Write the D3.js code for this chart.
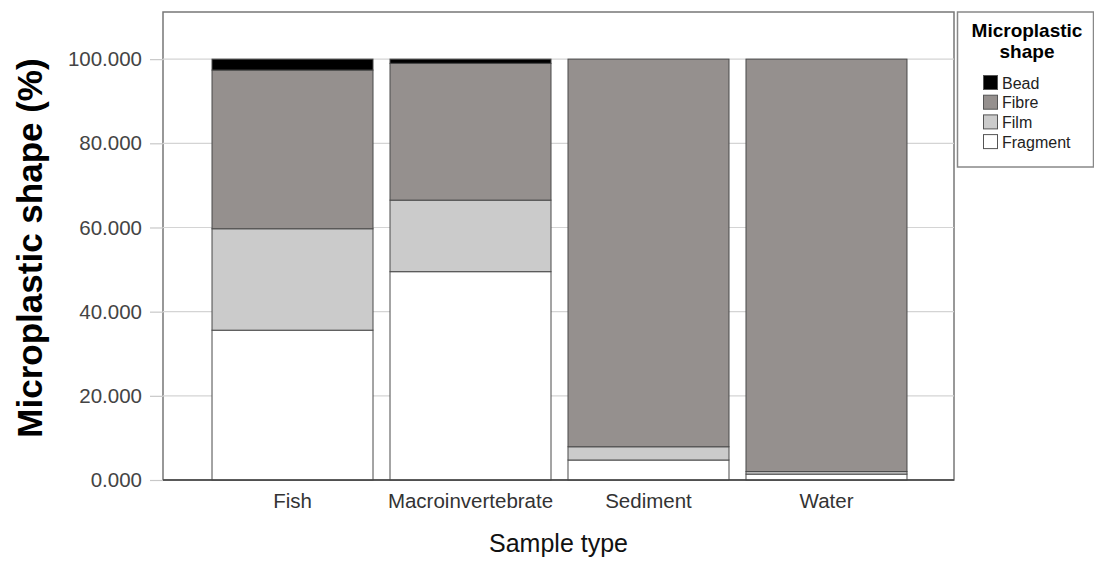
<!DOCTYPE html>
<html>
<head>
<meta charset="utf-8">
<script src="https://cdn.jsdelivr.net/npm/d3@7"></script>
<style>
    body { margin: 0; background: #fff; }
    text { font-family: "Liberation Sans", Arial, sans-serif; }
</style>
</head>
<body>
<div id="wrapper"></div>
<script>
const categories = ["Fish", "Macroinvertebrate", "Sediment", "Water"];
const shapes = ["Bead", "Fibre", "Film", "Fragment"];
const fragmentValues = [35.6, 49.5, 4.75, 1.4];
const filmValues = [24.1, 17.0, 3.15, 0.6];
const fibreValues = [37.7, 32.5, 92.1, 98.0];
const beadValues = [2.6, 1.0, 0.0, 0.0];
const yTicks = [0, 20, 40, 60, 80, 100];

function drawChart() {
    const dataset = categories.map((c, i) => ({
        category: c,
        Fragment: fragmentValues[i],
        Film: filmValues[i],
        Fibre: fibreValues[i],
        Bead: beadValues[i]
    }));

    const colors = {
        Bead: "#000000",
        Fibre: "#95908e",
        Film: "#cbcbcb",
        Fragment: "#ffffff"
    };

    let dimensions = {
        width: 1094,
        height: 561,
        frame: { left: 163, right: 954, top: 12, bottom: 480 }
    };

    const wrapper = d3.select('#wrapper')
        .append('svg')
        .attr('width', dimensions.width)
        .attr('height', dimensions.height);

    const yScale = d3.scaleLinear()
        .domain([0, 111.2])
        .range([dimensions.frame.bottom, dimensions.frame.top]);

    const xScale = d3.scaleBand()
        .domain(categories)
        .range([203.5, 915.5])
        .paddingInner(0.0955)
        .paddingOuter(0.0478);

    // plot frame
    wrapper.append('rect')
        .attr('x', dimensions.frame.left)
        .attr('y', dimensions.frame.top)
        .attr('width', dimensions.frame.right - dimensions.frame.left)
        .attr('height', dimensions.frame.bottom - dimensions.frame.top)
        .attr('fill', 'none')
        .attr('stroke', '#777')
        .attr('stroke-width', 1.5);

    // grid lines
    wrapper.append('g')
        .selectAll('line')
        .data(yTicks.filter(d => d > 0))
        .join('line')
        .attr('x1', dimensions.frame.left)
        .attr('x2', dimensions.frame.right)
        .attr('y1', d => yScale(d))
        .attr('y2', d => yScale(d))
        .attr('stroke', '#d4d4d4')
        .attr('stroke-width', 1.2);

    // stacked bars
    const stacked = d3.stack()
        .keys(["Fragment", "Film", "Fibre", "Bead"])(dataset);

    wrapper.append('g')
        .selectAll('g')
        .data(stacked)
        .join('g')
        .attr('fill', d => colors[d.key])
        .selectAll('rect')
        .data(d => d.filter(s => s[1] - s[0] > 0))
        .join('rect')
        .attr('x', d => xScale(d.data.category))
        .attr('width', xScale.bandwidth())
        .attr('y', d => yScale(d[1]))
        .attr('height', d => yScale(d[0]) - yScale(d[1]))
        .attr('stroke', '#4a4a4a')
        .attr('stroke-width', 1);

    // y axis
    const yAxisGenerator = d3.axisLeft()
        .scale(yScale)
        .tickValues(yTicks)
        .tickFormat(d3.format(".3f"))
        .tickSize(13)
        .tickPadding(8);

    const yAxis = wrapper.append('g')
        .attr('transform', `translate(${dimensions.frame.left}, 0)`)
        .call(yAxisGenerator);
    yAxis.select('.domain').remove();
    yAxis.selectAll('.tick line').attr('stroke', '#c8c8c8').attr('stroke-width', 1.2);
    yAxis.selectAll('.tick text')
        .attr('fill', '#444')
        .style('font-size', '20.5px')
        .style('font-family', '"Liberation Sans", Arial, sans-serif');

    // x axis
    const xAxisGenerator = d3.axisBottom()
        .scale(xScale)
        .tickSize(0)
        .tickPadding(13);

    const xAxis = wrapper.append('g')
        .attr('transform', `translate(0, ${dimensions.frame.bottom})`)
        .call(xAxisGenerator);
    xAxis.select('.domain').remove();
    xAxis.selectAll('.tick text')
        .attr('fill', '#333')
        .style('font-size', '20.5px')
        .style('font-family', '"Liberation Sans", Arial, sans-serif');

    wrapper.append('line')
        .attr('x1', dimensions.frame.left)
        .attr('x2', dimensions.frame.right)
        .attr('y1', dimensions.frame.bottom)
        .attr('y2', dimensions.frame.bottom)
        .attr('stroke', '#444')
        .attr('stroke-width', 1.5);

    // axis titles
    wrapper.append('text')
        .attr('x', (dimensions.frame.left + dimensions.frame.right) / 2)
        .attr('y', 552)
        .attr('text-anchor', 'middle')
        .attr('fill', '#111')
        .style('font-size', '25px')
        .text('Sample type');

    wrapper.append('text')
        .attr('transform', 'translate(42, 248) rotate(-90)')
        .attr('text-anchor', 'middle')
        .attr('fill', '#000')
        .style('font-size', '35px')
        .style('font-weight', 'bold')
        .text('Microplastic shape (%)');

    // legend
    const legend = wrapper.append('g');
    legend.append('rect')
        .attr('x', 957.5)
        .attr('y', 12)
        .attr('width', 136)
        .attr('height', 155)
        .attr('fill', '#fff')
        .attr('stroke', '#888')
        .attr('stroke-width', 1.5);

    legend.append('text')
        .attr('x', 1027)
        .attr('y', 37)
        .attr('text-anchor', 'middle')
        .style('font-size', '19px')
        .style('font-weight', 'bold')
        .text('Microplastic');
    legend.append('text')
        .attr('x', 1027)
        .attr('y', 58)
        .attr('text-anchor', 'middle')
        .style('font-size', '19px')
        .style('font-weight', 'bold')
        .text('shape');

    const items = legend.selectAll('g.item')
        .data(shapes)
        .join('g')
        .attr('class', 'item')
        .attr('transform', (d, i) => `translate(983.5, ${75.5 + i * 19.7})`);
    items.append('rect')
        .attr('width', 14)
        .attr('height', 14)
        .attr('fill', d => colors[d])
        .attr('stroke', '#555')
        .attr('stroke-width', 1);
    items.append('text')
        .attr('x', 18.5)
        .attr('y', 13)
        .attr('fill', '#222')
        .style('font-size', '16px')
        .text(d => d);
}

drawChart();
</script>
</body>
</html>
